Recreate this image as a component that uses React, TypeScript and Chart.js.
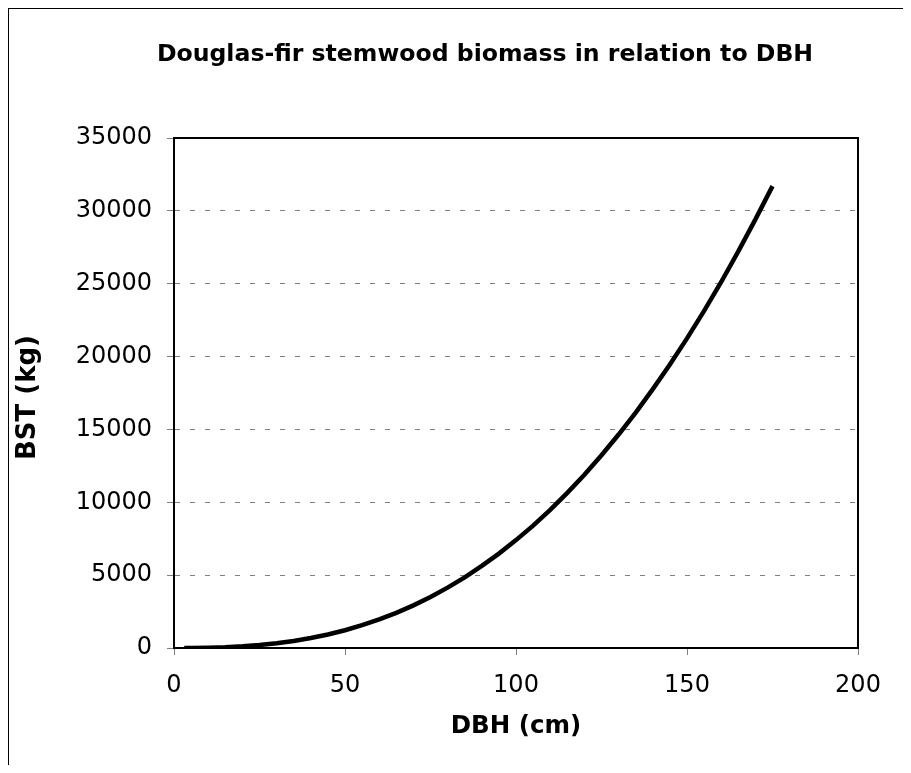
import React, { useEffect, useRef } from "react";
import { Chart, registerables } from "chart.js";

Chart.register(...registerables);

const chartTitle = "Douglas-fir stemwood biomass in relation to DBH";
const xTitle = "DBH (cm)";
const yTitle = "BST (kg) ";

const dbh = [3, 5, 10, 15, 20, 25, 30, 35, 40, 45, 50, 55, 60, 65, 70, 75, 80, 85, 90, 95, 100, 105, 110, 115, 120, 125, 130, 135, 140, 145, 150, 155, 160, 165, 170, 175];
const bst = [1, 3, 19, 53, 113, 201, 323, 483, 683, 928, 1221, 1565, 1961, 2415, 2928, 3503, 4142, 4850, 5633, 6477, 7403, 8400, 9480, 10650, 11890, 13230, 14650, 16160, 17770, 19460, 21250, 23140, 25120, 27220, 29420, 31700];

const xMin = 0, xMax = 200, xStep = 50;
const yMin = 0, yMax = 35000, yStep = 5000;

const FONT = "'DejaVu Sans', Verdana, sans-serif";

const framePlugin = {
  id: "frame",
  afterDatasetsDraw(chart: any) {
    const { ctx, chartArea } = chart;
    ctx.save();
    ctx.strokeStyle = "#000";
    ctx.lineWidth = 2;
    ctx.beginPath();
    ctx.moveTo(chartArea.left, chartArea.top);
    ctx.lineTo(chartArea.right, chartArea.top);
    ctx.lineTo(chartArea.right, chartArea.bottom);
    ctx.stroke();
    ctx.restore();
  },
};

export default function App() {
  const ref = useRef<HTMLCanvasElement>(null);
  useEffect(() => {
    if (!ref.current) return;
    const chart = new Chart(ref.current, {
      type: "line",
      data: {
        datasets: [
          {
            data: dbh.map((x, i) => ({ x, y: bst[i] })),
            borderColor: "#000",
            borderWidth: 4.5,
            pointRadius: 0,
            tension: 0,
            fill: false,
          },
        ],
      },
      options: {
        animation: false,
        responsive: false,
        maintainAspectRatio: false,
        layout: { padding: 0 },
        plugins: {
          legend: { display: false },
          tooltip: { enabled: false },
          title: {
            display: true,
            text: chartTitle,
            color: "#000",
            font: { family: FONT, size: 23.6, weight: "bold" },
            padding: { top: 33.5, bottom: 69.2 },
          },
        },
        scales: {
          x: {
            type: "linear",
            min: xMin,
            max: xMax,
            afterFit: (s: any) => {
              s.height = 117;
            },
            ticks: {
              stepSize: xStep,
              color: "#000",
              font: { family: FONT, size: 24 },
              padding: 16.6,
              maxRotation: 0,
            },
            grid: {
              drawOnChartArea: false,
              drawTicks: true,
              tickLength: 7,
              tickColor: "#808080",
              tickWidth: 1,
            },
            border: { display: true, color: "#000", width: 2 },
            title: {
              display: true,
              text: xTitle,
              color: "#000",
              font: { family: FONT, size: 24.5, weight: "bold" },
              padding: { top: 0, bottom: 23.3 },
            },
          },
          y: {
            type: "linear",
            min: yMin,
            max: yMax,
            afterFit: (s: any) => {
              s.width = 167;
            },
            ticks: {
              stepSize: yStep,
              color: "#000",
              font: { family: FONT, size: 24 },
              padding: 15,
              callback: (v: any) => String(v),
            },
            grid: {
              drawOnChartArea: true,
              color: "#808080",
              lineWidth: 1,
              tickLength: 7,
              tickColor: "#808080",
              tickBorderDash: [],
            },
            border: { display: true, color: "#000", width: 2, dash: [5, 10] },
            title: {
              display: true,
              text: yTitle,
              color: "#000",
              font: { family: FONT, size: 26, weight: "bold" },
              padding: { top: 5.5, bottom: 0 },
            },
          },
          yRight: {
            type: "linear",
            position: "right",
            min: yMin,
            max: yMax,
            display: true,
            afterFit: (s: any) => {
              s.width = 105;
            },
            ticks: { display: false },
            grid: { display: false, drawTicks: false },
            border: { display: false },
          },
        },
      } as any,
      plugins: [framePlugin],
    });
    return () => chart.destroy();
  }, []);

  return (
    <div
      style={{
        position: "relative",
        width: 903,
        height: 758,
        marginLeft: -1,
        marginTop: -1,
        overflow: "hidden",
      }}
    >
      <canvas ref={ref} width={956} height={758} style={{ position: "absolute", left: 0, top: 0, width: 956, height: 758 }} />
      <div
        style={{
          position: "absolute",
          left: 0,
          top: 0,
          width: 1200,
          height: 1200,
          borderLeft: "2px solid #000",
          borderTop: "2px solid #000",
          pointerEvents: "none",
        }}
      />
    </div>
  );
}
